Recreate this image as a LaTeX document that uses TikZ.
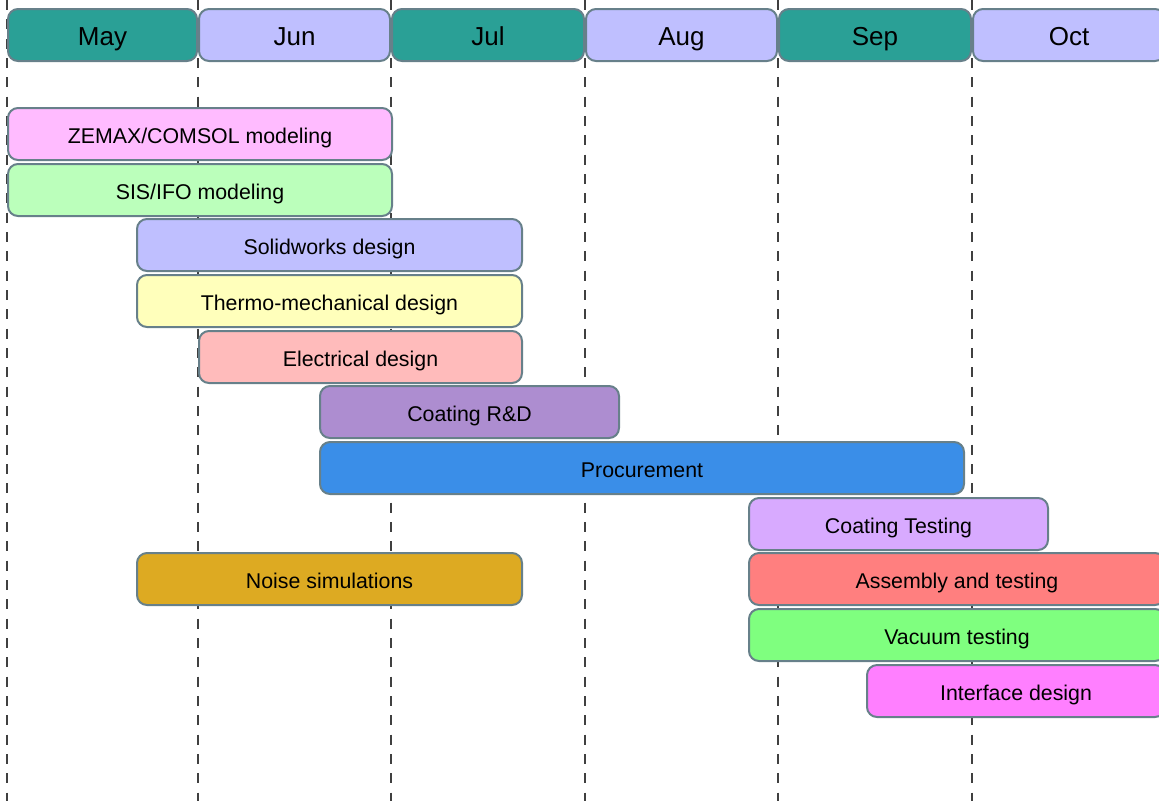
\documentclass[tikz,border=0pt]{standalone}
\usepackage{fontspec}
\setmainfont{Liberation Sans}
\usepackage{tikz}

\definecolor{edge}{RGB}{103,128,138}
\definecolor{teal}{RGB}{42,160,150}
\definecolor{lavender}{RGB}{191,191,255}
\definecolor{pinkish}{RGB}{255,187,255}
\definecolor{mint}{RGB}{187,255,187}
\definecolor{paleyellow}{RGB}{255,255,187}
\definecolor{salmon}{RGB}{255,187,187}
\definecolor{violet}{RGB}{173,141,208}
\definecolor{skyblue}{RGB}{58,142,232}
\definecolor{lilac}{RGB}{216,170,255}
\definecolor{gold}{RGB}{221,170,34}
\definecolor{coral}{RGB}{255,127,127}
\definecolor{lime}{RGB}{127,255,127}
\definecolor{fuchsia}{RGB}{255,127,255}

\tikzset{
  month/.style={draw=edge, line width=1.5pt, rounded corners=7.5pt, inner sep=0pt,
    minimum height=39pt, text height=16pt, text depth=0pt,
    font=\fontsize{19.5}{22}\selectfont},
  task/.style={draw=edge, line width=1.5pt, rounded corners=7.5pt, inner sep=0pt,
    minimum height=39pt, text height=13.5pt, text depth=0pt,
    font=\fontsize{16}{19}\selectfont},
  grid/.style={draw=black!75, line width=0.8pt, dash pattern=on 7.5pt off 7pt}
}

\begin{document}
\begin{tikzpicture}[x=0.75pt, y=-0.75pt]
		\useasboundingbox (0,0) rectangle (1159,801);
		\clip (0,0) rectangle (1159,801);

		% Month separators
		\draw[grid] (7,0) -- (7,801);
		\draw[grid] (198,0) -- (198,801);
		\draw[grid] (391,0) -- (391,801);
		\draw[grid] (585,0) -- (585,801);
		\draw[grid] (778,0) -- (778,801);
		\draw[grid] (972,0) -- (972,801);

		% Define months
		\node[month, fill=teal, minimum width=141.75pt] (may) at (102.5,35) {May};
		\node[month, fill=lavender, minimum width=143.25pt] (jun) at (294.5,35) {Jun};
		\node[month, fill=teal, minimum width=144pt] (jul) at (488,35) {Jul};
		\node[month, fill=lavender, minimum width=143.25pt] (aug) at (681.5,35) {Aug};
		\node[month, fill=teal, minimum width=144pt] (sep) at (875,35) {Sep};
		\node[month, fill=lavender, minimum width=144pt] (oct) at (1069,35) {Oct};

		% Define tasks
		\node[task, fill=pinkish, minimum width=288pt] (zemax) at (200,134) {ZEMAX/COMSOL modeling};
		\node[task, fill=mint, minimum width=288pt] (sis) at (200,190) {SIS/IFO modeling};
		\node[task, fill=lavender, minimum width=288.75pt] (solid) at (329.5,245) {Solidworks design};
		\node[task, fill=paleyellow, minimum width=288.75pt] (thermo) at (329.5,301) {Thermo-mechanical design};
		\node[task, fill=salmon, minimum width=242.25pt] (elec) at (360.5,357) {Electrical design};
		\node[task, fill=violet, minimum width=224.25pt] (coat) at (469.5,412) {Coating R\&D};
		\node[task, fill=skyblue, minimum width=483pt] (proc) at (642,468) {Procurement};
		\node[task, fill=lilac, minimum width=224.25pt] (ctest) at (898.5,524) {Coating Testing};
		\node[task, fill=gold, minimum width=288.75pt] (noise) at (329.5,579) {Noise simulations};
		\node[task, fill=coral, minimum width=312pt] (assy) at (957,579) {Assembly and testing};
		\node[task, fill=lime, minimum width=312pt] (vac) at (957,635) {Vacuum testing};
		\node[task, fill=fuchsia, minimum width=223.5pt] (iface) at (1016,691) {Interface design};
	\end{tikzpicture}
\end{document}
